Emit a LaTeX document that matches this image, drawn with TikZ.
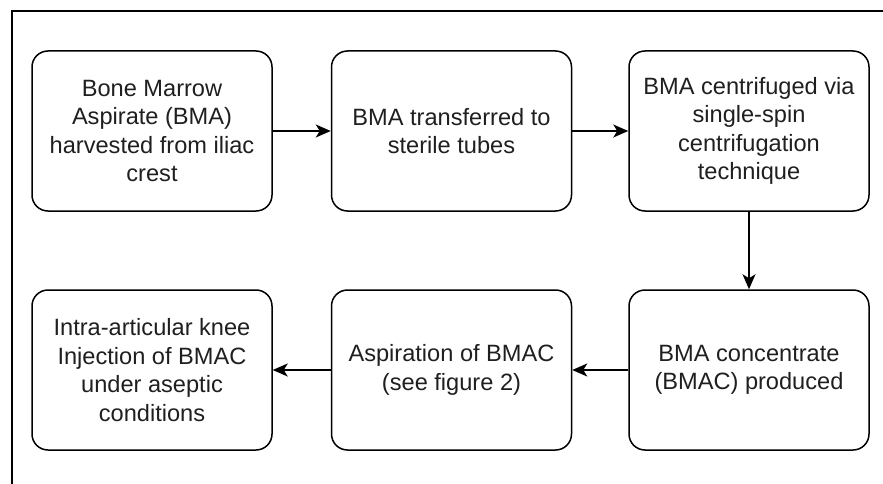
\documentclass[tikz,border=0pt]{standalone}
\usepackage{fontspec}
\setmainfont{Liberation Sans}
\usetikzlibrary{arrows.meta}
\begin{document}
\begin{tikzpicture}[x=1pt,y=-1pt,
  stepbox/.style={draw, line width=1.5pt, rounded corners=16pt, minimum width=240pt, minimum height=160pt,
    align=center, inner sep=0pt, text=black!88,
    font=\fontsize{23.6pt}{28.5pt}\selectfont},
  flow/.style={line width=1.5pt, -{Stealth[length=15pt,width=13pt,inset=4pt]}},
  frameline/.style={line width=1.5pt}]
\useasboundingbox (0,0) rectangle (883,484);
\coordinate (ftr) at (883,11);
\coordinate (ftl) at (12,11);
\coordinate (fbl) at (12,484);
\draw[frameline] (ftr) -- (ftl) -- (fbl);
\node[stepbox] (b1) at (152,131) {Bone Marrow\\Aspirate (BMA)\\harvested from iliac\\crest};
\node[stepbox] (b2) at (451.5,131) {BMA transferred to\\sterile tubes};
\node[stepbox] (b3) at (749,131) {BMA centrifuged via\\single-spin\\centrifugation\\technique};
\node[stepbox] (b4) at (749,370) {BMA concentrate\\(BMAC) produced};
\node[stepbox] (b5) at (451.5,370) {Aspiration of BMAC\\(see figure 2)};
\node[stepbox] (b6) at (152,370) {Intra-articular knee\\Injection of BMAC\\under aseptic\\conditions};
\draw[flow] (b1) -- (b2);
\draw[flow] (b2) -- (b3);
\draw[flow] (b3) -- (b4);
\draw[flow] (b4) -- (b5);
\draw[flow] (b5) -- (b6);
\end{tikzpicture}
\end{document}
